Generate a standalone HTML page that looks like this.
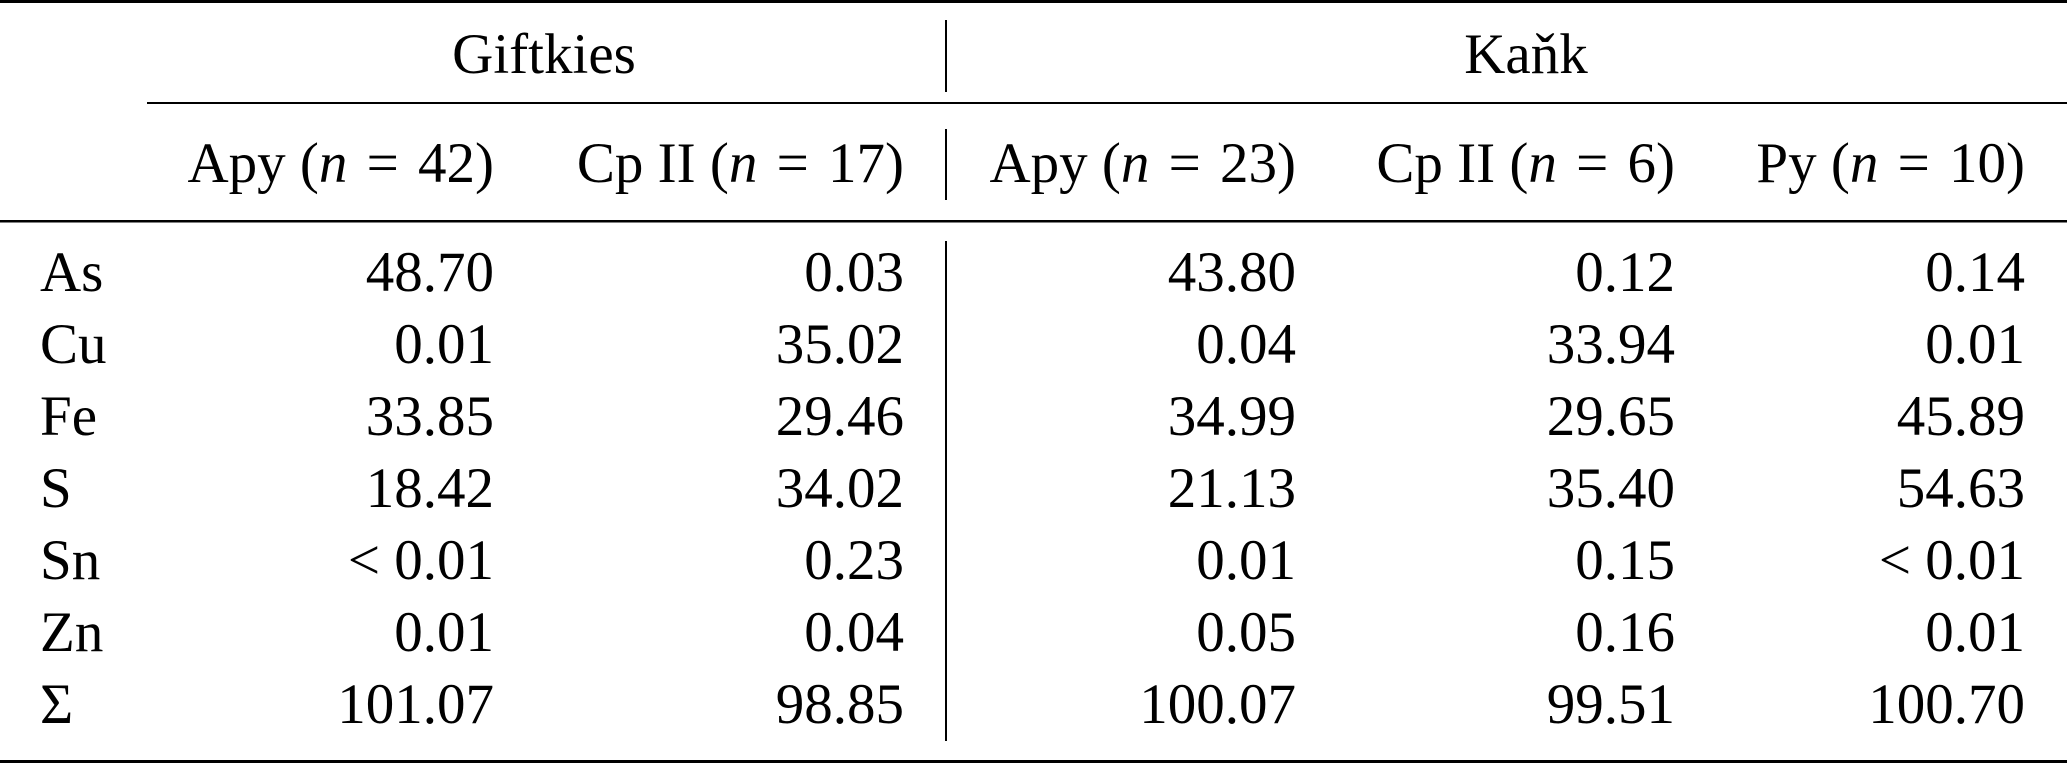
<!DOCTYPE html>
<html><head><meta charset="utf-8"><style>
html,body{margin:0;padding:0;background:#fff;}
svg{display:block;}
text{font-family:"Liberation Serif","DejaVu Serif",serif;font-size:57px;fill:#000;}
</style></head><body>
<svg width="2067" height="764" viewBox="0 0 2067 764" xmlns="http://www.w3.org/2000/svg">
<rect x="0" y="0" width="2067" height="3" fill="#000"/>
<rect x="0" y="760" width="2067" height="3" fill="#000"/>
<rect x="0" y="220" width="2067" height="2.5" fill="#000"/>
<rect x="147" y="102" width="1920" height="2" fill="#000"/>
<rect x="945" y="20" width="2" height="72" fill="#000"/>
<rect x="945" y="129" width="2" height="71" fill="#000"/>
<rect x="945" y="241" width="2" height="500" fill="#000"/>
<text x="544" y="73" text-anchor="middle">Giftkies</text>
<text x="1526" y="73" text-anchor="middle">Kaňk</text>
<g text-anchor="end">
<text x="494" y="182">Apy (<tspan font-style="italic">n</tspan><tspan dx="5"> = </tspan><tspan dx="5">42)</tspan></text>
<text x="904" y="182">Cp II (<tspan font-style="italic">n</tspan><tspan dx="5"> = </tspan><tspan dx="5">17)</tspan></text>
<text x="1296" y="182">Apy (<tspan font-style="italic">n</tspan><tspan dx="5"> = </tspan><tspan dx="5">23)</tspan></text>
<text x="1675" y="182">Cp II (<tspan font-style="italic">n</tspan><tspan dx="5"> = </tspan><tspan dx="5">6)</tspan></text>
<text x="2025" y="182">Py (<tspan font-style="italic">n</tspan><tspan dx="5"> = </tspan><tspan dx="5">10)</tspan></text>
</g>
<g>
<text x="40" y="291">As</text>
<text x="40" y="363">Cu</text>
<text x="40" y="435">Fe</text>
<text x="40" y="507">S</text>
<text x="40" y="579">Sn</text>
<text x="40" y="651">Zn</text>
<text x="40" y="723">Σ</text>
</g>
<g text-anchor="end">
<text x="494" y="291">48.70</text><text x="904" y="291">0.03</text><text x="1296" y="291">43.80</text><text x="1675" y="291">0.12</text><text x="2025" y="291">0.14</text>
<text x="494" y="363">0.01</text><text x="904" y="363">35.02</text><text x="1296" y="363">0.04</text><text x="1675" y="363">33.94</text><text x="2025" y="363">0.01</text>
<text x="494" y="435">33.85</text><text x="904" y="435">29.46</text><text x="1296" y="435">34.99</text><text x="1675" y="435">29.65</text><text x="2025" y="435">45.89</text>
<text x="494" y="507">18.42</text><text x="904" y="507">34.02</text><text x="1296" y="507">21.13</text><text x="1675" y="507">35.40</text><text x="2025" y="507">54.63</text>
<text x="494" y="579">&lt; 0.01</text><text x="904" y="579">0.23</text><text x="1296" y="579">0.01</text><text x="1675" y="579">0.15</text><text x="2025" y="579">&lt; 0.01</text>
<text x="494" y="651">0.01</text><text x="904" y="651">0.04</text><text x="1296" y="651">0.05</text><text x="1675" y="651">0.16</text><text x="2025" y="651">0.01</text>
<text x="494" y="723">101.07</text><text x="904" y="723">98.85</text><text x="1296" y="723">100.07</text><text x="1675" y="723">99.51</text><text x="2025" y="723">100.70</text>
</g>
</svg>
</body></html>
